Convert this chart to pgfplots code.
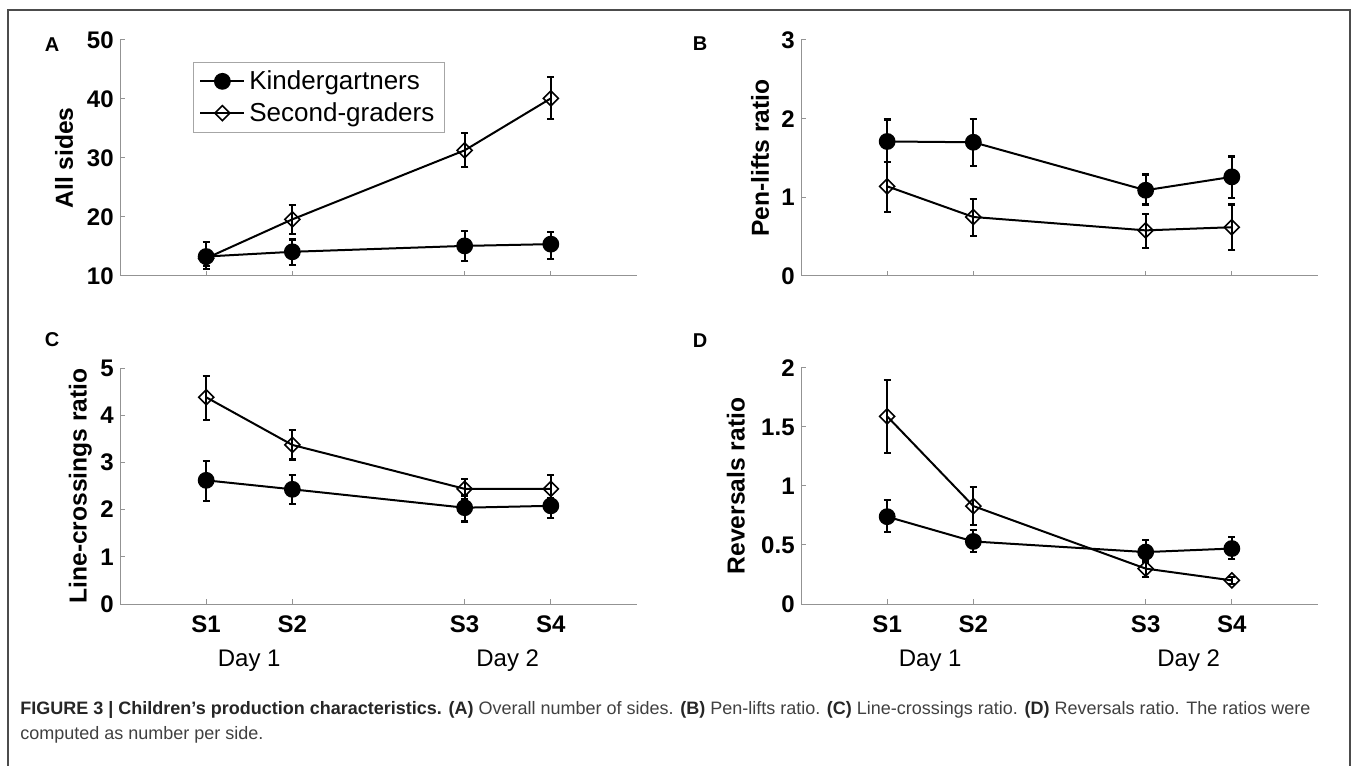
\documentclass[border=0pt]{standalone}
\usepackage{fontspec}
\setmainfont{Liberation Sans}
\usepackage{pgfplots}
\usepackage{pgfplotstable}
\pgfplotsset{compat=1.18}

% A: all sides
\pgfplotstableread{
x y ep em
1 13.3 2.5 2.1
2 14.1 2.1 2.2
4 15.1 2.5 2.6
5 15.4 2.1 2.5
}\sidesK
\pgfplotstableread{
x y ep em
1 13.0 1.3 1.3
2 19.6 2.5 2.5
4 31.3 3.0 2.8
5 40.1 3.6 3.5
}\sidesS
% B: pen-lifts
\pgfplotstableread{
x y ep em
1 1.71 0.28 0.26
2 1.70 0.30 0.30
4 1.09 0.20 0.18
5 1.26 0.26 0.27
}\penK
\pgfplotstableread{
x y ep em
1 1.14 0.31 0.33
2 0.75 0.23 0.24
4 0.58 0.21 0.22
5 0.62 0.29 0.29
}\penS
% C: line-crossings
\pgfplotstableread{
x y ep em
1 2.62 0.41 0.43
2 2.43 0.31 0.31
4 2.04 0.26 0.29
5 2.08 0.17 0.26
}\crossK
\pgfplotstableread{
x y ep em
1 4.38 0.45 0.49
2 3.37 0.31 0.31
4 2.44 0.21 0.22
5 2.44 0.30 0.29
}\crossS
% D: reversals
\pgfplotstableread{
x y ep em
1 0.74 0.14 0.13
2 0.53 0.10 0.09
4 0.44 0.10 0.08
5 0.47 0.10 0.09
}\revK
\pgfplotstableread{
x y ep em
1 1.59 0.31 0.31
2 0.83 0.16 0.16
4 0.30 0.07 0.07
5 0.20 0.03 0.03
}\revS

\newcommand\ylab[1]{%
  \pgfplotsset{every axis y label/.style={at={(axis description cs:#1,0.5)}, rotate=90,
    anchor=center, font=\fontsize{12.3bp}{14bp}\selectfont\bfseries}}}

\pgfplotsset{
  panel/.style={
    scale only axis, width=258.5bp, height=118bp,
    anchor=south west,
    xmin=0, xmax=6, xtick={1,2,4,5},
    axis lines*=left,
    axis line style={-, gray!85, line width=0.5bp},
    tick style={gray!85, line width=0.5bp},
    tick align=inside, major tick length=2.5bp,
    ticklabel style={font=\fontsize{12bp}{14bp}\selectfont\bfseries},
    /pgf/number format/assume math mode=true,
    yticklabel style={inner sep=0pt, xshift=-3bp},
    xticklabel style={inner sep=0pt, yshift=-5.5bp},
    clip=false,
    legend image code/.code={
      \draw[mark repeat=2,mark phase=2,#1] plot coordinates {(0bp,0bp) (11bp,0bp) (22bp,0bp)};},
  },
  kid/.style={black, line width=1bp, mark=*, mark size=3.7bp,
    error bars/.cd, y dir=both, y explicit,
    error bar style={line width=1.1bp},
    error mark options={rotate=90, mark size=1.8bp, line width=1.1bp}},
  sec/.style={black, line width=1bp, mark=square, mark size=2.65bp,
    mark options={rotate=45, line width=0.8bp},
    error bars/.cd, y dir=both, y explicit,
    error bar style={line width=1.1bp},
    error mark options={rotate=90, mark size=1.8bp, line width=1.1bp}},
}

\begin{document}
\begin{tikzpicture}
% figure frame, open at the bottom
\draw[black!70, line width=0.8bp] (4bp,-2bp) -- (4bp,378bp) -- (675bp,378bp) -- (675bp,-2bp);

\begin{axis}[panel, at={(60bp,245bp)}, ymin=10, ymax=50, ytick={10,20,30,40,50},
  xticklabels={},
  /utils/exec={\ylab{-0.108}},
  ylabel={All sides},
  legend style={at={(0.141,0.907)}, anchor=north west, draw=gray!70, line width=0.5bp,
    font=\fontsize{13bp}{15bp}\selectfont, inner xsep=3bp, inner ysep=2bp, row sep=1bp,
    cells={anchor=west}},
]
\addplot[kid] table[x=x, y=y, y error plus=ep, y error minus=em] {\sidesK};
\addlegendentry{Kindergartners}
\addplot[sec] table[x=x, y=y, y error plus=ep, y error minus=em] {\sidesS};
\addlegendentry{Second-graders}
\end{axis}

\begin{axis}[panel, at={(400.5bp,245bp)}, ymin=0, ymax=3, ytick={0,1,2,3},
  xticklabels={},
  /utils/exec={\ylab{-0.079}},
  ylabel={Pen-lifts ratio},
]
\addplot[kid] table[x=x, y=y, y error plus=ep, y error minus=em] {\penK};
\addplot[sec] table[x=x, y=y, y error plus=ep, y error minus=em] {\penS};
\end{axis}

\begin{axis}[panel, at={(60bp,81bp)}, ymin=0, ymax=5, ytick={0,1,2,3,4,5},
  xticklabels={S1,S2,S3,S4},
  /utils/exec={\ylab{-0.077}},
  ylabel={Line-crossings ratio},
]
\addplot[kid] table[x=x, y=y, y error plus=ep, y error minus=em] {\crossK};
\addplot[sec] table[x=x, y=y, y error plus=ep, y error minus=em] {\crossS};
\node[font=\fontsize{12bp}{14bp}\selectfont] at (axis cs:1.5,0) [yshift=-28.5bp] {Day 1};
\node[font=\fontsize{12bp}{14bp}\selectfont] at (axis cs:4.5,0) [yshift=-28.5bp] {Day 2};
\end{axis}

\begin{axis}[panel, at={(400.5bp,81bp)}, ymin=0, ymax=2, ytick={0,0.5,1,1.5,2},
  xticklabels={S1,S2,S3,S4},
  /utils/exec={\ylab{-0.126}},
  ylabel={Reversals ratio},
]
\addplot[kid] table[x=x, y=y, y error plus=ep, y error minus=em] {\revK};
\addplot[sec] table[x=x, y=y, y error plus=ep, y error minus=em] {\revS};
\node[font=\fontsize{12bp}{14bp}\selectfont] at (axis cs:1.5,0) [yshift=-28.5bp] {Day 1};
\node[font=\fontsize{12bp}{14bp}\selectfont] at (axis cs:4.5,0) [yshift=-28.5bp] {Day 2};
\end{axis}

% panel letters
\begin{scope}[font=\fontsize{10bp}{12bp}\selectfont\bfseries]
\node at (26bp,360.5bp) {A};
\node at (350bp,361bp) {B};
\node at (26bp,213bp) {C};
\node at (350bp,212.5bp) {D};
\end{scope}

% caption
\begin{scope}[font=\fontsize{9bp}{11bp}\selectfont, text=black!75]
\node[anchor=base west, inner sep=0pt] at (10bp,26bp) {{\bfseries\color{black!85}FIGURE 3 | Children’s production characteristics. (A)} Overall number of sides. {\bfseries\color{black!85}(B)} Pen-lifts ratio. {\bfseries\color{black!85}(C)} Line-crossings ratio. {\bfseries\color{black!85}(D)} Reversals ratio. The ratios were};
\node[anchor=base west, inner sep=0pt] at (10bp,13.5bp) {computed as number per side.};
\end{scope}

\pgfresetboundingbox
\useasboundingbox (0bp,0bp) rectangle (678bp,383bp);
\end{tikzpicture}
\end{document}
